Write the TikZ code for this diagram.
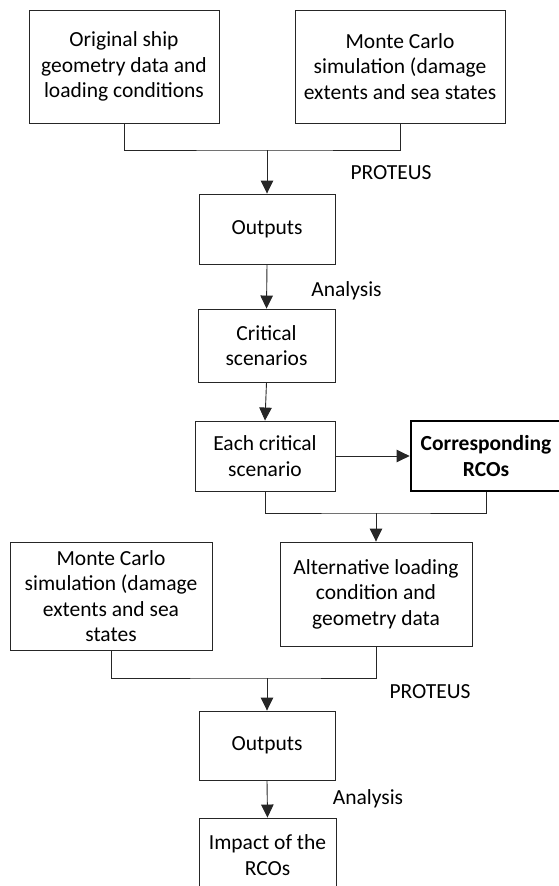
\documentclass[tikz,border=0pt]{standalone}
\usepackage{fontspec}
\setmainfont{Carlito}
\usetikzlibrary{arrows.meta}
\begin{document}
\begin{tikzpicture}[x=1pt,y=-1pt,
  every node/.style={font=\fontsize{21.5}{25.5}\selectfont, text=black},
  box/.style={draw=black!85, line width=0.9pt, align=center, inner sep=0pt},
  thickbox/.style={box, line width=2.8pt, draw=black},
  conn/.style={draw=black!85, line width=0.9pt},
  arr/.style={conn, -{Triangle[width=12.5pt,length=13pt]}},
  lbl/.style={inner sep=0pt}
]
\useasboundingbox (0,0) rectangle (558,886);

\node[box, minimum width=190pt, minimum height=113pt] (b1) at (124,66.5) {Original ship\\geometry data and\\loading conditions};
\node[box, minimum width=210pt, minimum height=113pt] (b2) at (400,66.5) {Monte Carlo\\simulation (damage\\extents and sea states};
\node[box, minimum width=136pt, minimum height=70pt] (out1) at (267,229) {Outputs};
\node[box, minimum width=137pt, minimum height=73pt] (crit) at (266.5,345.5) {Critical\\scenarios};
\node[box, minimum width=140pt, minimum height=70pt] (each) at (265,456) {Each critical\\scenario};
\node[thickbox, minimum width=150pt, minimum height=70pt, font=\fontsize{21.5}{25.5}\selectfont\bfseries] (corr) at (486,456) {Corresponding\\RCOs};
\node[box, minimum width=202pt, minimum height=108pt] (mc2) at (111,596) {Monte Carlo\\simulation (damage\\extents and sea\\states};
\node[box, minimum width=192pt, minimum height=104pt] (alt) at (376,594) {Alternative loading\\condition and\\geometry data};
\node[box, minimum width=136pt, minimum height=69pt] (out2) at (267,745.5) {Outputs};
\node[box, minimum width=137pt, minimum height=74pt] (imp) at (267.5,855) {Impact of the\\RCOs};

\node[lbl] (p1) at (391,173) {PROTEUS};
\node[lbl] (a1) at (346.5,291) {Analysis};
\node[lbl] (p2) at (430,692) {PROTEUS};
\node[lbl] (a2) at (368,799) {Analysis};

\coordinate (j1) at (267,150);
\coordinate (j2) at (376,513);
\coordinate (j3) at (267,678);

\draw[conn] (b1.south) |- (j1) -| (b2.south);
\draw[arr] (j1) -- (out1.north);
\draw[arr] (out1.south) -- (crit.north);
\draw[arr] (crit.south) -- (each.north);
\draw[arr] (each.east) -- (corr.west);
\draw[conn] (each.south) |- (j2) -| (corr.south);
\draw[arr] (j2) -- (alt.north);
\draw[conn] (mc2.south) |- (j3) -| (alt.south);
\draw[arr] (j3) -- (out2.north);
\draw[arr] (out2.south) -- (imp.north);
\end{tikzpicture}
\end{document}
